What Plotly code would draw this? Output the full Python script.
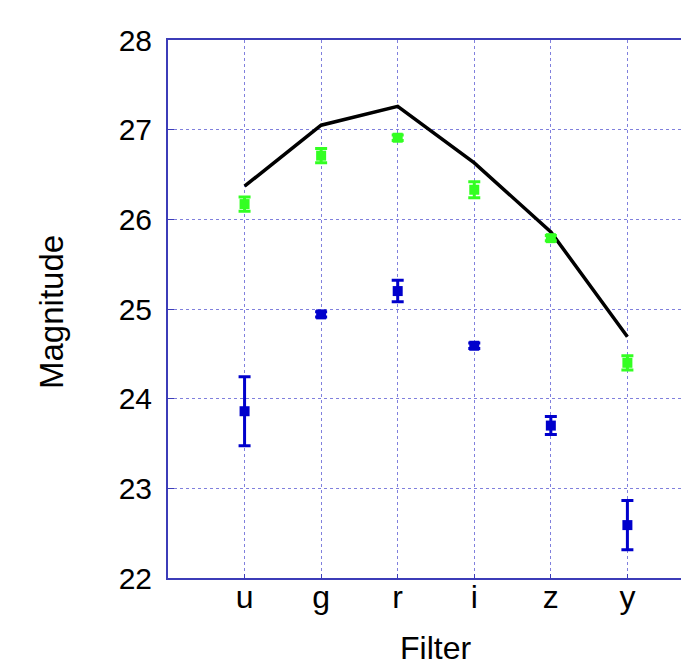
import plotly.graph_objects as go

filters = ["u", "g", "r", "i", "z", "y"]
model_mag = [26.37, 27.05, 27.26, 26.63, 25.86, 24.69]
green_mag = [26.17, 26.71, 26.91, 26.33, 25.79, 24.40]
green_err = [0.08, 0.08, 0.03, 0.09, 0.03, 0.08]
blue_mag = [23.86, 24.94, 25.20, 24.59, 23.70, 22.59]
blue_err = [0.385, 0.03, 0.12, 0.03, 0.10, 0.275]
y_ticks = [22, 23, 24, 25, 26, 27, 28]

axis_col = "#3c3cb8"
grid_col = "#8080dd"
font_fam = "Liberation Sans, Arial, sans-serif"

W, H = 681, 668
ML, MR, MT, MB = 168, 0, 40, 90
plot_w = W - ML - MR
plot_h = H - MT - MB

fig = go.Figure()
fig.add_trace(go.Scatter(
    x=filters, y=model_mag, mode="lines",
    line=dict(color="black", width=3.5), showlegend=False))
fig.add_trace(go.Scatter(
    x=filters, y=green_mag, mode="markers",
    marker=dict(symbol="square", size=10, color="#33ff22"),
    error_y=dict(type="data", array=green_err, color="#33ff22", thickness=3, width=6),
    showlegend=False))
fig.add_trace(go.Scatter(
    x=filters, y=blue_mag, mode="markers",
    marker=dict(symbol="square", size=10, color="#0000cc"),
    error_y=dict(type="data", array=blue_err, color="#0000cc", thickness=3, width=6),
    showlegend=False))

fig.update_layout(
    width=W, height=H,
    margin=dict(l=ML, r=MR, t=MT, b=MB),
    paper_bgcolor="white", plot_bgcolor="white",
    font=dict(family=font_fam, size=30, color="black"),
    xaxis=dict(
        type="category", categoryorder="array", categoryarray=filters,
        range=[-1, 5.70],
        showline=True, linecolor=axis_col, linewidth=2, mirror=True,
        showgrid=True, gridcolor=grid_col, griddash="dot", gridwidth=1,
        ticks="inside", ticklen=4, tickcolor=axis_col,
        tickfont=dict(size=32), ticklabelstandoff=-10,
        zeroline=False,
    ),
    yaxis=dict(
        range=[22, 28], tickvals=y_ticks,
        showline=True, linecolor=axis_col, linewidth=2, mirror=False,
        showgrid=True, gridcolor=grid_col, griddash="dot", gridwidth=1,
        ticks="inside", ticklen=6, tickcolor=axis_col,
        tickfont=dict(size=30), ticklabelstandoff=8,
        zeroline=False,
    ),
    annotations=[
        dict(text="Magnitude", textangle=-90, showarrow=False,
             xref="paper", yref="paper",
             x=(51 - ML) / plot_w, y=(H - MB - 312) / plot_h,
             xanchor="center", yanchor="middle", font=dict(size=33)),
        dict(text="Filter", showarrow=False,
             xref="paper", yref="paper",
             x=(435 - ML) / plot_w, y=(H - MB - 648) / plot_h,
             xanchor="center", yanchor="middle", font=dict(size=32)),
    ],
)

fig.write_html("out.html")
